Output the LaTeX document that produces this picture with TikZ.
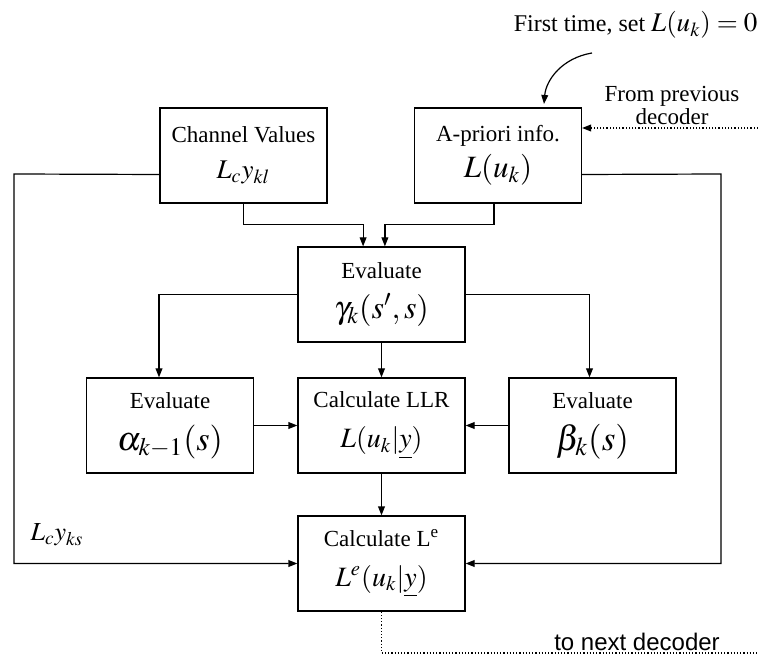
\documentclass[tikz,border=0pt]{standalone}
\usepackage{mathptmx}
\usepackage[no-math]{fontspec}
\setmainfont{Liberation Serif}
\newfontfamily\arialfont{Liberation Sans}
\usetikzlibrary{arrows.meta}

\newcommand{\mtxt}[2]{{\fontsize{#1}{#1}\selectfont$#2$}}

\tikzset{
  blk/.style={draw, minimum width=83.5pt, minimum height=47.5pt, align=center, inner sep=2pt},
  lbl/.style={align=center, inner sep=0pt}
}

\begin{document}
\begin{tikzpicture}
  [x=0.5pt,y=-0.5pt,line width=0.6pt,>={Triangle[length=4.5pt,width=3.4pt]},
   every node/.style={font=\fontsize{11.5}{18}\selectfont}]
  \useasboundingbox (0,0) rectangle (758,656);
  % blocks
  \node[blk] (chan) at (243.5,155.5) {Channel Values\\ \mtxt{13.5}{L_c y_{kl}}};
  \node[blk] (apri) at (498,155.5) {A-priori info.\\ \mtxt{15.5}{L(u_k)}};
  \node[blk] (gam) at (381.5,294.5) {Evaluate\\[2pt] \mtxt{16}{\gamma_k(s',s)}};
  \node[blk] (alph) at (170,425.5) {Evaluate\\[3pt] \mtxt{17}{\alpha_{k-1}(s)}};
  \node[blk] (llr) at (381.5,425.5) {Calculate LLR\\[2pt] \mtxt{14}{L(u_k|\underline{y})}};
  \node[blk] (bet) at (592.5,425.5) {Evaluate\\[3pt] \mtxt{17.5}{\beta_k(s)}};
  \node[blk] (ext) at (381.5,563.5) {Calculate L\textsuperscript{e}\\[2pt] \mtxt{14}{L^e(u_k|\underline{y})}};
  % free ends
  \coordinate (lft) at (14,174);
  \coordinate (rgt) at (721,174);
  \coordinate (prv) at (758,128);
  \coordinate (nxt) at (758,653);
  \coordinate (hint) at (592,53);
  \coordinate (hintend) at (544,104);
  % labels
  \node[lbl, anchor=base east] (firstlbl) at (758,32)
    {\fontsize{12}{14}\selectfont First time, set \mtxt{13.5}{L(u_k)=0}};
  \node[lbl, anchor=south, font=\fontsize{11.5}{10}\selectfont] (fromlbl) at (672,125) {From previous\\decoder};
  \node[lbl] (lsys) at (57,535) {\mtxt{13}{L_c y_{ks}}};
  \node[lbl, anchor=base, font=\arialfont\fontsize{12}{14}\selectfont] (nextlbl) at (637,650) {to next decoder};
  % connectors
  \draw[->] (chan.south) -- ++(0,21) -| ([xshift=-9.2pt]gam.north);
  \draw[->] ([xshift=-2pt]apri.south) -- ++(0,21) -| ([xshift=1.7pt]gam.north);
  \draw[->] (gam.west) -| ([xshift=-5.5pt]alph.north);
  \draw[->] (gam.east) -| ([xshift=-1.5pt]bet.north);
  \foreach \from/\to in {gam.south/llr.north, alph.east/llr.west, bet.west/llr.east, llr.south/ext.north}
    \draw[->] (\from) -- (\to);
  \draw[->] ([yshift=-9.5pt]chan.west) -- (lft) |- (ext.west);
  \draw[->] ([yshift=-9.5pt]apri.east) -- (rgt) |- (ext.east);
  \draw[->, densely dotted] (prv) -- (prv -| apri.east);
  \draw[densely dotted] (ext.south) |- (nxt);
  \draw[->] (hint) .. controls (562,58) and (546,80) .. (hintend);
\end{tikzpicture}
\end{document}
